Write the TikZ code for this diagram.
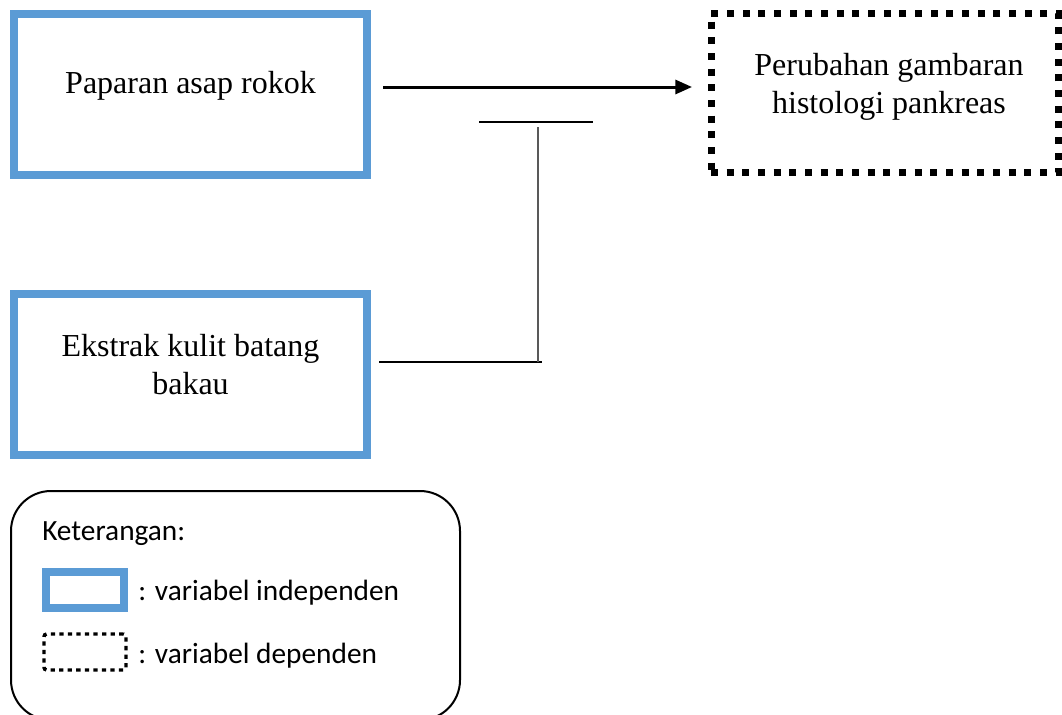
\documentclass[tikz,border=0pt]{standalone}
\usepackage{fontspec}
\setmainfont{Liberation Serif}
\newfontfamily\legfont{Carlito}
\usetikzlibrary{arrows.meta}
\definecolor{indblue}{HTML}{5B9BD5}
\begin{document}
\begin{tikzpicture}[x=0.75pt,y=-0.75pt,
  indep/.style={draw=indblue, line width=6pt, rectangle, minimum width=264.75pt, minimum height=120.75pt, inner sep=0pt, outer sep=0pt},
  depbox/.style={draw=black, line width=5.25pt, dash pattern=on 5.25pt off 6.5pt, rectangle, minimum width=260.25pt, minimum height=119.6pt, inner sep=0pt, outer sep=0pt},
  maintext/.style={align=center, inner sep=0pt, font=\fontsize{24pt}{28.5pt}\selectfont},
  legtext/.style={anchor=west, inner sep=0pt, font=\legfont\fontsize{22pt}{26pt}\selectfont},
  thinline/.style={line width=1.1pt},
  mainarrow/.style={line width=2.25pt, -{Triangle[length=12.5pt,width=10.5pt]}}
]
\useasboundingbox (0,0) rectangle (1062,714);

% main boxes
\node[indep] (A) at (190.5,94.5) {};
\node[maintext] (tA) at (190.5,86) {Paparan asap rokok};
\node[depbox] (B) at (884.5,93.25) {};
\node[maintext] (tB) at (889,87) {Perubahan gambaran\\histologi pankreas};
\node[indep] (C) at (190.5,374.5) {};
\node[maintext] (tC) at (190.5,365) {Ekstrak kulit batang\\bakau};

% arrow
\draw[mainarrow, shorten <=12pt, shorten >=14.25pt] (A.east |- 0,87) -- (B.west |- 0,87);

% T connector
\coordinate (tcorner) at (538,362);
\coordinate (tbar) at (538,122);
\draw[thinline, shorten <=9pt] (C.east |- tcorner) -- ([xshift=3pt]tcorner);
\draw[thinline, draw=black!65, line width=1.4pt] (tcorner) -- ([yshift=-3.75pt]tbar);
\draw[thinline] ([xshift=-44.25pt]tbar) -- ([xshift=41.25pt]tbar);

% legend
\draw[line width=1.5pt, rounded corners=30pt] (11,491) rectangle (460,720);
\node[legtext] (lk) at (42,534) {Keterangan:};
\node[draw=indblue, line width=6pt, minimum width=58.5pt, minimum height=27pt, inner sep=0pt] (lb) at (85,590) {};
\node[legtext] (li) at (138,593) {: variabel independen};
\node[draw=black, line width=2.6pt, dash pattern=on 3.2pt off 3.2pt, rounded corners=2pt, minimum width=61.5pt, minimum height=27pt, inner sep=0pt] (ld) at (85,652) {};
\node[legtext] (ldt) at (138,656) {: variabel dependen};
\end{tikzpicture}
\end{document}
